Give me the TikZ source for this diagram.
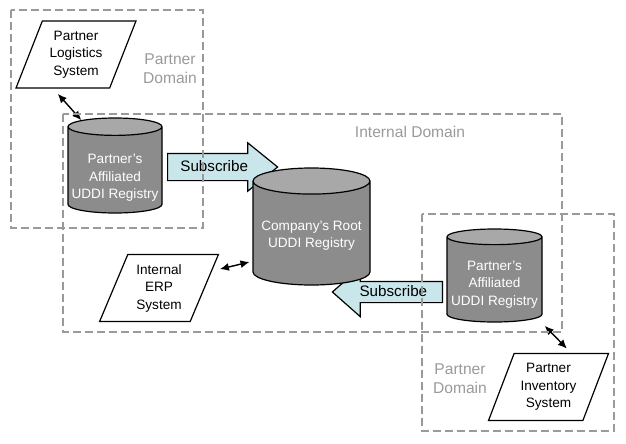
\documentclass[tikz,border=0pt]{standalone}
\usepackage{fontspec}
\setmainfont{Liberation Sans}
\usetikzlibrary{arrows.meta,shapes.geometric,shapes.arrows,calc}
\definecolor{regbody}{HTML}{8C8C8C}
\definecolor{regtop}{HTML}{A8A8A8}
\definecolor{subfill}{HTML}{C9E7EB}
\definecolor{domgray}{HTML}{9A9A9A}

\begin{document}
\begin{tikzpicture}[
x=1pt,y=-1pt,
font=\fontsize{13.6}{17.5}\selectfont,
registry/.style={cylinder,shape border rotate=90,draw,line width=1.2pt,
cylinder uses custom fill,cylinder body fill=regbody,
cylinder end fill=regtop,text=white,align=center,inner sep=0pt,
anchor=shape center},
system/.style={trapezium,trapezium left angle=66.6,
trapezium right angle=113.4,trapezium stretches=true,
draw,line width=1.2pt,fill=white,align=center,
minimum width=120pt,minimum height=67pt},
subscribe/.style={single arrow,draw,line width=1.2pt,fill=subfill,
font=\fontsize{15.2}{18}\selectfont,
text height=11pt,text depth=3pt,anchor=tail},
domainbox/.style={draw=domgray,line width=1.3pt,dash pattern=on 8pt off 4pt},
domlabel/.style={text=domgray,align=center,font=\fontsize{15.6}{19}\selectfont},
link/.style={{Latex[length=9pt,width=8pt]}-{Latex[length=9pt,width=8pt]},
line width=1.4pt}
]
\useasboundingbox (0,0) rectangle (626,444);

% subscription arrows
\node[subscribe,single arrow head extend=10.5pt,single arrow tip angle=78,
minimum height=110pt,inner ysep=6pt] (subtop) at (167,167) {Subscribe};
\node[subscribe,shape border rotate=180,single arrow head extend=14pt,
single arrow tip angle=83,minimum height=110pt,inner ysep=3pt,inner xsep=2pt]
(subbot) at (443,292) {Subscribe};

% registries
\node[registry,minimum width=94pt,minimum height=95pt,aspect=0.2,
text height=60pt] (regTL) at (115,165.5) {Partner's\\Affiliated\\UDDI Registry};
\node[registry,minimum width=117pt,minimum height=117pt,aspect=0.26,
text height=32pt] (root) at (311.5,226.5) {Company's Root\\UDDI Registry};
\node[registry,minimum width=95pt,minimum height=93pt,aspect=0.18,
text height=54pt] (regR) at (494.5,275.5) {Partner's\\Affiliated\\UDDI Registry};

% systems
\node[system] (logistics) at (76,54.5) {Partner\\Logistics\\System};
\node[system] (erp) at (159,288) {Internal\\ERP\\System};
\node[system] (inv) at (548.5,387) {Partner\\Inventory\\System};

% links
\draw[link,shorten <=7pt]
($(logistics.bottom left corner)!0.4!(logistics.bottom right corner)$)
-- (regTL.124);
\draw[link,shorten <=8pt,shorten >=3pt]
($(erp.top right corner)!0.25!(erp.bottom right corner)$)
-- ([yshift=-28pt]root.west);
\draw[link,shorten <=3pt,shorten >=6pt] ([yshift=-44pt]regR.east)
-- ($(inv.top left corner)!0.6!(inv.top right corner)$);

% domains
\draw[domainbox] (11,10) rectangle (203,228);
\draw[domainbox] (63,114) rectangle (562,332);
\draw[domainbox] (422,214) rectangle (614,431);
\node[domlabel] (pdomtop) at (170,69) {Partner\\Domain};
\node[domlabel] (idom) at (410,132) {Internal Domain};
\node[domlabel] (pdombot) at (460,379) {Partner\\Domain};
\end{tikzpicture}
\end{document}
